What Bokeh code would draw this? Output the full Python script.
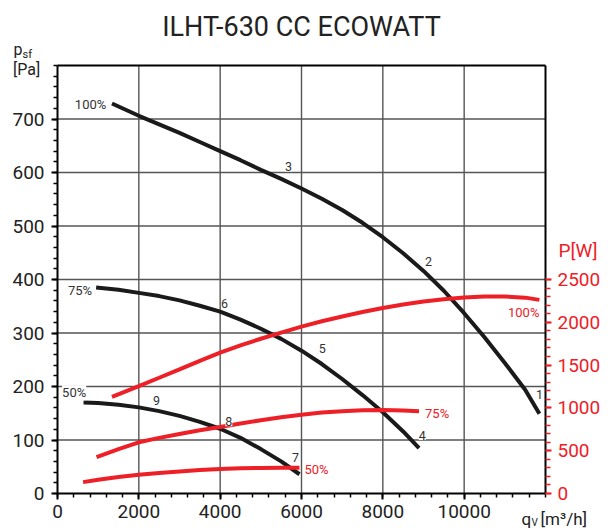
import numpy as np
from bokeh.plotting import figure
from bokeh.models import Range1d, LinearAxis, FixedTicker, Label
from bokeh.embed import file_html
from bokeh.resources import INLINE

# ---------------- data ----------------
title_text = "ILHT-630 CC ECOWATT"

# static pressure curves p_sf [Pa] vs airflow q_v [m3/h]
q_p100 = [1340, 2000, 2500, 3000, 3500, 4000, 4500, 5000, 5500, 6000, 6500, 7000,
          7500, 8000, 8500, 9000, 9500, 10000, 10500, 11000, 11500, 11850]
p_100 = [729, 706, 690, 674, 657, 640, 623, 605, 588, 570, 551, 530,
         506, 479, 449, 416, 379, 337, 292, 244, 194, 149]
q_p75 = [950, 1500, 2000, 2500, 3000, 3500, 4000, 4500, 5000, 5500, 6000, 6500,
         7000, 7500, 8000, 8500, 8890]
p_75 = [385, 381, 375, 369, 361, 351, 340, 325, 308, 289, 267, 242,
        214, 184, 152, 116, 85]
q_p50 = [640, 1000, 1500, 2000, 2500, 3000, 3500, 4000, 4500, 5000, 5500, 5950]
p_50 = [170, 169, 166, 161, 154, 145, 134, 121, 104, 83, 60, 36]

# power curves P [W] vs airflow
q_w100 = [1340, 2000, 2500, 3000, 3500, 4000, 4500, 5000, 5500, 6000, 6500, 7000,
          7500, 8000, 8500, 9000, 9500, 10000, 10500, 11000, 11500, 11850]
w_100 = [1130, 1255, 1352, 1450, 1550, 1645, 1730, 1808, 1880, 1950, 2012, 2068,
         2120, 2168, 2208, 2242, 2270, 2290, 2302, 2302, 2288, 2262]
q_w75 = [960, 1500, 2000, 2500, 3000, 3500, 4000, 4500, 5000, 5500, 6000, 6500,
         7000, 7500, 8000, 8500, 8890]
w_75 = [425, 518, 598, 650, 695, 738, 778, 818, 855, 890, 920, 945,
        962, 972, 975, 970, 960]
q_w50 = [630, 1000, 1500, 2000, 2500, 3000, 3500, 4000, 4500, 5000, 5500, 5950]
w_50 = [133, 160, 192, 218, 240, 258, 274, 286, 294, 299, 301, 301]

curve_names = ["100%", "75%", "50%"]

# operating point numbers: (label, q position, curve)
point_labels = ["1", "2", "3", "4", "5", "6", "7", "8", "9"]
point_q = [11852, 9123, 5680, 8968, 6509, 4107, 5853, 4213, 2434]
point_curve = ["100%", "100%", "100%", "75%", "75%", "75%", "50%", "50%", "50%"]

x_ticks = [0, 2000, 4000, 6000, 8000, 10000]
y_ticks = [0, 100, 200, 300, 400, 500, 600, 700]
w_ticks = [0, 500, 1000, 1500, 2000, 2500]

# ---------------- layout constants ----------------
X_MAX, Y_MAX, W_MAX = 12000, 800, 5000
CW, CH = 613, 530                 # canvas size
FL, FT, FR, FB = 57, 65, 545, 493  # chart box in canvas pixels
Q_PER_PX = X_MAX / (FR - FL)
PA_PER_PX = Y_MAX / (FB - FT)
W_PER_PX = W_MAX / (FB - FT)

FONT = "Roboto"
BLACK = "#1a1a1a"
RED = "#ee2027"
GRID = "#555555"


def X(px):
    return (px - FL) * Q_PER_PX


def Y(py):
    return (FB - py) * PA_PER_PX


p = figure(width=CW, height=CH, output_backend="svg", toolbar_location=None,
           x_range=Range1d(X(0), X(CW)), y_range=Range1d(Y(CH), Y(0)),
           min_border=0, min_border_left=0, min_border_right=0,
           min_border_top=0, min_border_bottom=0,
           x_axis_type=None, y_axis_type=None)
p.extra_y_ranges = {"power": Range1d(Y(CH) / PA_PER_PX * W_PER_PX,
                                     Y(0) / PA_PER_PX * W_PER_PX)}
p.background_fill_color = "white"
p.border_fill_color = "white"
p.outline_line_color = None
p.xgrid.visible = False
p.ygrid.visible = False

# grid lines inside the chart box (at tick values)
gx = x_ticks[1:]
gy = y_ticks[1:]
p.segment(x0=gx, y0=[0] * len(gx), x1=gx, y1=[Y_MAX] * len(gx),
          line_color=GRID, line_width=1.4)
p.segment(x0=[0] * len(gy), y0=gy, x1=[X_MAX] * len(gy), y1=gy,
          line_color=GRID, line_width=1.4)


def style_axis(ax, color, label_color):
    ax.axis_line_color = "black"
    ax.axis_line_width = 2
    ax.major_tick_line_color = color
    ax.minor_tick_line_color = color
    ax.major_tick_line_width = 2
    ax.minor_tick_line_width = 1.5
    ax.major_tick_out = 6
    ax.major_tick_in = 0
    ax.minor_tick_out = 4
    ax.minor_tick_in = 0
    ax.major_label_text_font = FONT
    ax.major_label_text_font_size = "19px"
    ax.major_label_text_color = label_color


ax_x = LinearAxis(ticker=FixedTicker(ticks=x_ticks, minor_ticks=list(range(0, X_MAX + 1, 400))),
                  fixed_location=0, bounds=(0, X_MAX))
style_axis(ax_x, "black", "#222222")
ax_x.major_label_standoff = 5
p.add_layout(ax_x, "below")

ax_y = LinearAxis(ticker=FixedTicker(ticks=y_ticks, minor_ticks=list(range(0, Y_MAX + 1, 20))),
                  fixed_location=0, bounds=(0, Y_MAX))
style_axis(ax_y, "black", "#222222")
ax_y.major_label_standoff = 7
p.add_layout(ax_y, "left")

ax_w = LinearAxis(y_range_name="power",
                  ticker=FixedTicker(ticks=w_ticks, minor_ticks=list(range(0, 2501, 100))),
                  fixed_location=X_MAX, bounds=(0, W_MAX))
style_axis(ax_w, RED, RED)
ax_w.major_label_standoff = 6
ax_w.minor_tick_out = 5
p.add_layout(ax_w, "right")

ax_top = LinearAxis(ticker=FixedTicker(ticks=[]), fixed_location=Y_MAX, bounds=(0, X_MAX))
ax_top.axis_line_color = "black"
ax_top.axis_line_width = 2
ax_top.major_label_text_font_size = "0px"
p.add_layout(ax_top, "above")

# curves
for q, v in ((q_p100, p_100), (q_p75, p_75), (q_p50, p_50)):
    p.line(q, v, line_width=4, color=BLACK)
for q, v in ((q_w100, w_100), (q_w75, w_75), (q_w50, w_50)):
    p.line(q, v, line_width=4, color=RED, y_range_name="power")


def add_text(text, q, val, dx=0.0, dy_down=0.0, align="left", power=False,
             color="#333333", size="13px", bg=True):
    """Text whose vertical centre lies dy_down px below the given curve point."""
    per = W_PER_PX if power else PA_PER_PX
    kw = dict(x=q + dx * Q_PER_PX, y=val - dy_down * per, text=text,
              text_align=align, text_baseline="middle",
              text_font=FONT, text_font_size=size, text_color=color)
    if power:
        kw["y_range_name"] = "power"
    if bg:
        kw["background_fill_color"] = "white"
        kw["background_fill_alpha"] = 1.0
    p.add_layout(Label(**kw))


# percentage labels (black: pressure, red: power)
add_text(curve_names[0], q_p100[0], p_100[0], dx=-5.7, dy_down=0.6, align="right")
add_text(curve_names[1], q_p75[0], p_75[0], dx=-4, dy_down=3.3, align="right")
add_text(curve_names[2], q_p50[0], p_50[0], dx=2.7, dy_down=-9.7, align="right")
add_text(curve_names[0], q_w100[-1], w_100[-1], dx=0, dy_down=12.6, align="right",
         power=True, color=RED)
add_text(curve_names[1], q_w75[-1], w_75[-1], dx=6, dy_down=2, align="left",
         power=True, color=RED)
add_text(curve_names[2], q_w50[-1], w_50[-1], dx=5, dy_down=1.4, align="left",
         power=True, color=RED)

# operating point numbers
curves = {"100%": (q_p100, p_100), "75%": (q_p75, p_75), "50%": (q_p50, p_50)}
point_dy = [-19, -14.6, -15.7, -12.5, -15.5, -10.3, -14.3, -10.8, -10.1]
for lab, q, c, dy in zip(point_labels, point_q, point_curve, point_dy):
    cq, cv = curves[c]
    val = float(np.interp(q, cq, cv))
    add_text(lab, q, val, dx=0, dy_down=dy, align="center", size="12.5px")


# texts outside the chart box (title and axis names), placed by canvas pixels
def page_text(text, px, py_center, size, color="#222222", align="left"):
    p.add_layout(Label(x=X(px), y=Y(py_center), text=text,
                       text_align=align, text_baseline="middle",
                       text_font=FONT, text_font_size=size, text_color=color))


page_text(title_text, (FL + FR) / 2, 26, "27px", align="center")
page_text("p", 13, 48.5, "16px")
page_text("sf", 22, 54, "11px")
page_text("[Pa]", 12.5, 68.5, "16px")
page_text("P[W]", 558, 249.5, "19px", color=RED)
page_text("q", 521, 518, "17px")
page_text("V", 531, 522, "10px")
page_text("[m³/h]", 540, 518.5, "17px")

open("out.html", "w").write(file_html(p, INLINE))
